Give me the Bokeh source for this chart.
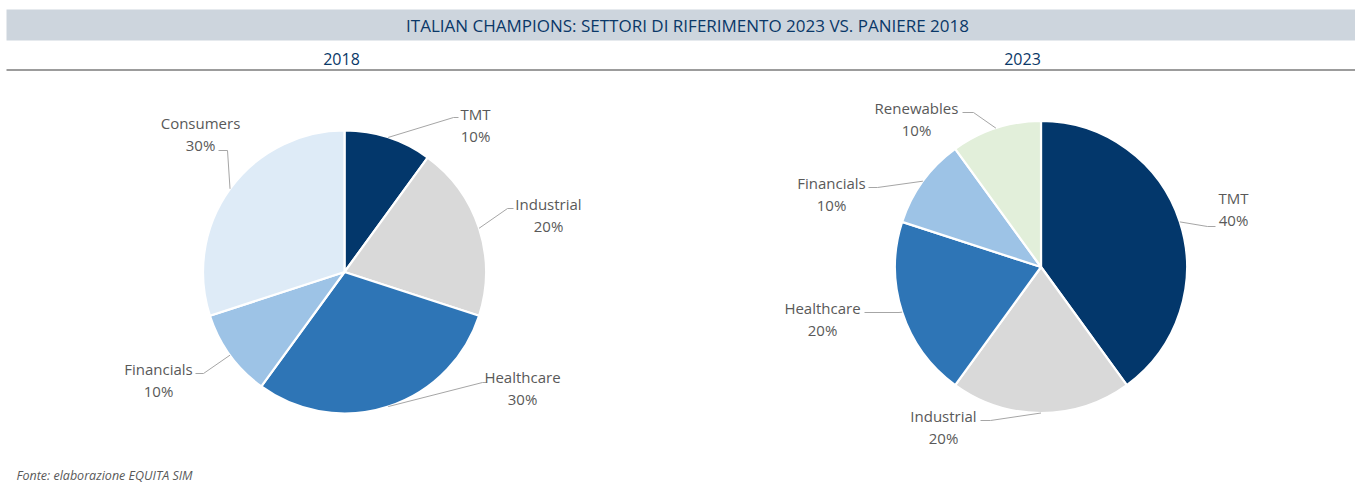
import math
from bokeh.plotting import figure
from bokeh.models import Range1d, ColumnDataSource
from bokeh.core.properties import value
from bokeh.embed import file_html
from bokeh.resources import INLINE

# ---------------- data ----------------
TITLE = "ITALIAN CHAMPIONS: SETTORI DI RIFERIMENTO 2023 VS. PANIERE 2018"
SOURCE_NOTE = "Fonte: elaborazione EQUITA SIM"

years = ["2018", "2023"]

sectors_2018 = ["TMT", "Industrial", "Healthcare", "Financials", "Consumers"]
values_2018 = [10, 20, 30, 10, 30]

sectors_2023 = ["TMT", "Industrial", "Healthcare", "Financials", "Renewables"]
values_2023 = [40, 20, 20, 10, 10]

# ---------------- styles / layout ----------------
SECTOR_COLORS = {
    "TMT": "#03376B",
    "Industrial": "#D9D9D9",
    "Healthcare": "#2E75B6",
    "Financials": "#9DC3E6",
    "Consumers": "#DEEBF7",
    "Renewables": "#E2EFDA",
}
NAVY = "#0A3868"
LABEL_COLOR = "#595959"
LEADER_COLOR = "#A6A6A6"
FONT = "Open Sans"

W, H = 1355, 484
OFF = 0


def X(sx):
    return sx - OFF


def Y(sy):
    return H - (sy - OFF)


# pie centres / radii in screen pixels
PIE_LAYOUT = {
    "2018": dict(cx=344, cy=271.5, r=141.5, title_x=341),
    "2023": dict(cx=1040.5, cy=266.5, r=146, title_x=1022),
}
# label placement relative to pie centre (screen px, y downward):
# (name centre dx, dy), (leader elbow dx, dy), (leader end dx, dy)
LABEL_LAYOUT = {
    "2018": [
        ((131, -158.5), (109, -154.5), (114, -154.5)),
        ((204, -68.5), (163, -63.5), (169, -63.5)),
        ((178, 104.5), (138, 110.5), (142, 110.5)),
        ((-186, 96.5), (-141, 101.5), (-149, 101.5)),
        ((-144, -149.5), (-117, -121.5), (-126, -121.5)),
    ],
    "2023": [
        ((192.5, -69.5), (166.5, -40.5), (174.5, -40.5)),
        ((-97.5, 148.5), (-50.5, 153.5), (-60.5, 153.5)),
        ((-218.5, 40.5), (-142, 45.5), (-176.5, 45.5)),
        ((-209.5, -84.5), (-163.5, -79.5), (-172.5, -79.5)),
        ((-124.5, -159.5), (-67.5, -154.5), (-78.5, -154.5)),
    ],
}
PCT_GAP = 22.5

p = figure(width=W, height=H, x_range=Range1d(0, W), y_range=Range1d(0, H),
           output_backend="svg", toolbar_location=None, min_border=0,
           x_axis_location=None, y_axis_location=None)
p.grid.visible = False
p.outline_line_color = None
p.background_fill_color = "white"
p.border_fill_color = "white"

# header band
p.quad(left=[X(6)], right=[X(1360)], top=[Y(9)], bottom=[Y(40)],
       fill_color="#CDD5DD", line_color=None)
p.text(x=[X(687)], y=[Y(24.5)], text=[TITLE], text_align="center",
       text_baseline="middle", text_font=value(FONT), text_font_size="17px",
       text_color=NAVY)
# underline
p.segment(x0=[X(6)], y0=[Y(69.5)], x1=[X(1360)], y1=[Y(69.5)],
          line_color="#9C9C9C", line_width=2)

data = {"2018": (sectors_2018, values_2018), "2023": (sectors_2023, values_2023)}

for yr in years:
    names, vals = data[yr]
    lay = PIE_LAYOUT[yr]
    cx, cy, r = X(lay["cx"]), Y(lay["cy"]), lay["r"]
    total = float(sum(vals))
    starts, ends, mids = [], [], []
    acc = 0.0
    for v in vals:
        a0 = math.pi / 2 - 2 * math.pi * acc / total
        acc += v
        a1 = math.pi / 2 - 2 * math.pi * acc / total
        starts.append(a0)
        ends.append(a1)
        mids.append((a0 + a1) / 2)
    src = ColumnDataSource(dict(
        x=[cx] * len(vals), y=[cy] * len(vals), start=starts, end=ends,
        color=[SECTOR_COLORS[n] for n in names]))
    p.wedge(x="x", y="y", radius=r, start_angle="start", end_angle="end",
            direction="clock", fill_color="color", line_color="white",
            line_width=2.2, source=src)

    # subtitle
    p.text(x=[X(lay["title_x"])], y=[Y(58.5)], text=[yr], text_align="center",
           text_baseline="middle", text_font=value(FONT),
           text_font_size="16px", text_color=NAVY)

    # labels + leaders
    lx, ly, px_, py_, xs, ys = [], [], [], [], [], []
    for n, v, m, (nm, el, en) in zip(names, vals, mids, LABEL_LAYOUT[yr]):
        ax, ay = cx + r * math.cos(m), cy + r * math.sin(m)
        xs.append([ax, cx + el[0], cx + en[0]])
        ys.append([ay, cy - el[1], cy - en[1]])
        lx.append(cx + nm[0])
        ly.append(cy - nm[1])
        px_.append(cx + nm[0])
        py_.append(cy - nm[1] - PCT_GAP)
    p.multi_line(xs=xs, ys=ys, line_color=LEADER_COLOR, line_width=1)
    p.text(x=lx, y=ly, text=list(names), text_align="center",
           text_baseline="middle", text_font=value(FONT),
           text_font_size="15px", text_color=LABEL_COLOR)
    p.text(x=px_, y=py_, text=[f"{v}%" for v in vals], text_align="center",
           text_baseline="middle", text_font=value(FONT),
           text_font_size="15px", text_color=LABEL_COLOR)

# footer
p.text(x=[X(16)], y=[Y(475)], text=[SOURCE_NOTE], text_align="left",
       text_baseline="alphabetic", text_font=value(FONT),
       text_font_size="12.5px", text_font_style="italic", text_color=LABEL_COLOR)

open("out.html", "w").write(file_html(p, INLINE))
